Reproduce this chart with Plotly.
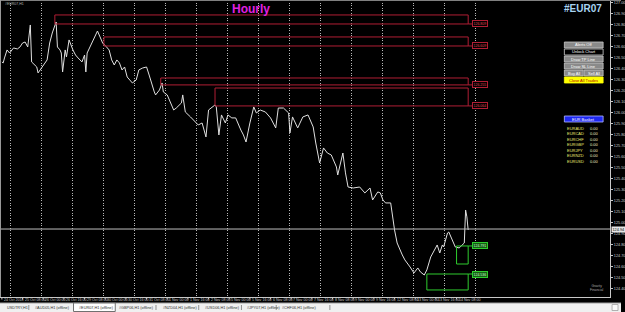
import plotly.graph_objects as go

# ---------------- data ----------------
# hourly bar index (0 = 25 Oct 00:00, weekends removed) and #EUR07 close
bars = [-7, -6, -5, -3, -1, 2, 5, 7, 9, 11, 13, 15, 16, 18, 20, 21, 24, 26, 28, 30,
        32, 35, 36, 38, 39, 40, 42, 43, 45, 48, 50, 52, 55, 57, 58, 59, 62, 65, 67, 69,
        71, 74, 76, 78, 80, 82, 84, 86, 88, 90, 94, 97, 99, 102, 105, 107, 109, 111, 112, 115,
        117, 118, 121, 124, 126, 128, 132, 133, 135, 139, 143, 145, 148, 151, 153, 155, 158, 159, 161, 163,
        166, 168, 171, 174, 176, 178, 180, 182, 185, 188, 190, 193, 197, 201, 205, 207, 211, 215, 216, 218,
        222, 226, 230, 234, 236, 239, 242, 245, 248, 252, 253, 257, 259, 261, 265, 270, 274, 278, 280, 284,
        286, 288, 290, 294, 297, 299, 303, 305, 309, 312, 315, 317, 320, 322, 325, 328, 330, 332, 334, 335,
        338, 339, 342, 344, 347, 349, 351, 352, 353, 354]
prices = [126.464, 126.455, 126.500, 126.573, 126.545, 126.591, 126.582, 126.600, 126.636, 126.645,
          126.600, 126.800, 126.464, 126.436, 126.418, 126.364, 126.418, 126.455, 126.482, 126.636,
          126.727, 126.827, 126.600, 126.573, 126.545, 126.373, 126.573, 126.509, 126.664, 126.573,
          126.527, 126.500, 126.464, 126.527, 126.373, 126.545, 126.618, 126.691, 126.745, 126.691,
          126.636, 126.600, 126.573, 126.482, 126.436, 126.482, 126.455, 126.391, 126.418, 126.327,
          126.273, 126.300, 126.391, 126.409, 126.418, 126.345, 126.255, 126.191, 126.164, 126.209,
          126.273, 126.191, 126.164, 126.091, 126.027, 126.045, 126.091, 126.164, 126.009, 125.964,
          125.918, 125.891, 125.909, 125.782, 126.027, 126.045, 126.073, 126.055, 125.800, 125.982,
          125.909, 125.982, 125.955, 125.955, 125.891, 125.845, 125.800, 125.736, 125.909, 126.055,
          126.000, 126.027, 126.009, 125.955, 125.864, 126.045, 126.045, 126.000, 125.818, 125.964,
          125.864, 125.964, 125.982, 125.873, 125.727, 125.545, 125.682, 125.636, 125.618, 125.509,
          125.436, 125.636, 125.455, 125.327, 125.318, 125.327, 125.273, 125.318, 125.209, 125.282,
          125.273, 125.209, 125.182, 125.182, 124.936, 124.818, 124.709, 124.664, 124.600, 124.545,
          124.591, 124.555, 124.527, 124.573, 124.691, 124.755, 124.800, 124.727, 124.800, 124.782,
          124.909, 124.918, 124.845, 124.782, 124.773, 124.800, 124.818, 125.118, 125.055, 124.936]

current_price = 124.945

day_grid_bars = [0, 24, 48, 72, 96, 120, 144, 168, 192, 216, 240, 264, 288, 312, 336, 360]

time_label_bars = [-7, 9, 25, 41, 57, 73, 89, 105, 121, 137, 153, 169, 185, 201, 217, 233,
                   249, 265, 281, 297, 313, 329, 345]
time_labels = ["24 Oct 2018", "25 Oct 08:00", "26 Oct 00:00", "26 Oct 16:00", "29 Oct 08:00",
               "30 Oct 00:00", "30 Oct 16:00", "31 Oct 08:00", "1 Nov 00:00", "1 Nov 16:00",
               "2 Nov 08:00", "5 Nov 00:00", "5 Nov 16:00", "6 Nov 08:00", "7 Nov 00:00",
               "7 Nov 16:00", "8 Nov 08:00", "9 Nov 00:00", "9 Nov 16:00", "12 Nov 08:00",
               "13 Nov 00:00", "13 Nov 16:00", "14 Nov 08:00"]

price_ticks = [127.0, 126.9, 126.8, 126.7, 126.6, 126.5, 126.4, 126.3, 126.2, 126.1,
               126.0, 125.9, 125.8, 125.7, 125.6, 125.5, 125.4, 125.3, 125.2, 125.1,
               125.0, 124.9, 124.8, 124.7, 124.6, 124.5, 124.4]
price_tick_labels = ["127.00", "126.90", "126.80", "126.70", "126.60", "126.50", "126.40",
                     "126.30", "126.20", "126.10", "126.00", "125.90", "125.80", "125.70",
                     "125.60", "125.50", "125.40", "125.30", "125.20", "125.10", "125.00",
                     "124.90", "124.80", "124.70", "124.60", "124.50", "124.40"]

# supply (red) and demand (green) zones
zone_end_bar = 354
red_start = [34, 72, 116, 158]
red_low = [126.809, 126.609, 126.255, 126.064]
red_high = [126.891, 126.691, 126.318, 126.227]
green_start = [345, 322]
green_low = [124.627, 124.391]
green_high = [124.791, 124.536]

basket_pairs = ["EURAUD", "EURCAD", "EURCHF", "EURGBP", "EURJPY", "EURNZD", "EURUSD"]
basket_values = ["0.00", "0.00", "0.00", "0.00", "0.00", "0.00", "0.00"]

tab_names = ["USDTRY,H1", "#AUD05,H1 (offline)", "#EUR07,H1 (offline)", "#GBP06,H1 (offline)",
             "#NZD04,H1 (offline)", "#USD06,H1 (offline)", "#JPY07,H1 (offline)",
             "#CHF06,H1 (offline)"]

# ---------------- layout helpers ----------------
W, H = 625, 312
PLOT_RIGHT_PX = 614
PLOT_BOTTOM_PX = 297
FONT = "Liberation Sans, Arial, sans-serif"
AXIS_COL = "#C8C8C8"


def fx(p):
    return p / W


def fy(p):
    return 1 - p / H


fig = go.Figure()
fig.add_trace(go.Scatter(x=bars, y=prices, mode="lines",
                         line=dict(color="#E0E0E0", width=1), hoverinfo="skip",
                         showlegend=False))

shapes = []
ann = []

# current price line
shapes.append(dict(type="line", xref="paper", yref="y", x0=0, x1=fx(PLOT_RIGHT_PX),
                   y0=current_price, y1=current_price, line=dict(color="#BEBEBE", width=1)))

# red zones
RED = "#B01E34"
for x0, lo, hi in zip(red_start, red_low, red_high):
    shapes.append(dict(type="rect", xref="x", yref="y", x0=x0, x1=zone_end_bar, y0=lo, y1=hi,
                       line=dict(color=RED, width=1), fillcolor="rgba(0,0,0,0)"))
    shapes.append(dict(type="line", xref="x", yref="y", x0=zone_end_bar, x1=zone_end_bar + 3,
                       y0=lo, y1=lo, line=dict(color=RED, width=1)))
    ann.append(dict(x=zone_end_bar + 3, y=lo, xref="x", yref="y", xanchor="left",
                    yanchor="middle", text=f"{lo:.3f}", showarrow=False,
                    font=dict(size=3.5, color="#E04050", family=FONT),
                    bordercolor=RED, borderwidth=1, borderpad=0.5, bgcolor="#000000"))

# green zones
GREEN = "#2ECC2E"
for x0, lo, hi in zip(green_start, green_low, green_high):
    shapes.append(dict(type="rect", xref="x", yref="y", x0=x0, x1=zone_end_bar, y0=lo, y1=hi,
                       line=dict(color=GREEN, width=1), fillcolor="rgba(0,0,0,0)"))
    shapes.append(dict(type="line", xref="x", yref="y", x0=zone_end_bar, x1=zone_end_bar + 3,
                       y0=hi, y1=hi, line=dict(color=GREEN, width=1)))
    ann.append(dict(x=zone_end_bar + 3, y=hi, xref="x", yref="y", xanchor="left",
                    yanchor="middle", text=f"{hi:.3f}", showarrow=False,
                    font=dict(size=3.5, color="#D0FFD0", family=FONT),
                    bordercolor=GREEN, borderwidth=1, borderpad=0.5, bgcolor="#136013"))

# time labels + small ticks
for b, t in zip(time_label_bars, time_labels):
    ann.append(dict(x=b, y=fy(300.2), xref="x", yref="paper", xanchor="left",
                    yanchor="middle", text=t, showarrow=False,
                    font=dict(size=3.6, color=AXIS_COL, family=FONT)))
    shapes.append(dict(type="line", xref="x", yref="paper", x0=b, x1=b,
                       y0=fy(PLOT_BOTTOM_PX), y1=fy(PLOT_BOTTOM_PX + 2.5),
                       line=dict(color=AXIS_COL, width=1)))

# current price tag
ann.append(dict(x=fx(PLOT_RIGHT_PX + 1), y=current_price, xref="paper", yref="y",
                xanchor="left", yanchor="middle", text=f"{current_price:.2f}", showarrow=False,
                font=dict(size=3.8, color="#000000", family=FONT), bgcolor="#E6E6E6",
                borderpad=0.5))

# titles
ann.append(dict(x=fx(253), y=fy(9), xref="paper", yref="paper", xanchor="center",
                yanchor="middle", text="<b>Hourly</b>", showarrow=False,
                font=dict(size=12, color="#E020E0", family=FONT)))
ann.append(dict(x=fx(587), y=fy(8), xref="paper", yref="paper", xanchor="center",
                yanchor="middle", text="<b>#EUR07</b>", showarrow=False,
                font=dict(size=10, color="#A8D4F0", family=FONT)))
ann.append(dict(x=fx(3), y=fy(4), xref="paper", yref="paper", xanchor="left",
                yanchor="middle", text="#EUR07,H1", showarrow=False,
                font=dict(size=3.5, color="#B0B0B0", family=FONT)))

# buttons
GRAYBTN = "#8A8A8A"
buttons = [
    ("Alerts Off", 568, 607, 42, 48, GRAYBTN, "#C8C8C8", "#FFFFFF"),
    ("Unlock Chart", 568, 607, 49, 55, "#000000", "#D0D0D0", "#FFFFFF"),
    ("Draw TP Line", 568, 607, 56, 62, GRAYBTN, "#C8C8C8", "#FFFFFF"),
    ("Draw SL Line", 568, 607, 63, 69, GRAYBTN, "#C8C8C8", "#FFFFFF"),
    ("Buy All", 568, 587, 70, 76, GRAYBTN, "#C8C8C8", "#FFFFFF"),
    ("Sell All", 588, 607, 70, 76, GRAYBTN, "#C8C8C8", "#FFFFFF"),
    ("Close All Trades", 568, 607, 77, 83, "#FFFF00", "#FFFF00", "#B00000"),
    ("EUR Basket", 568, 607, 116, 122, "#1E28F0", "#B0B8FF", "#FFFFFF"),
]
for txt, x0, x1, y0, y1, fill, border, tcol in buttons:
    shapes.append(dict(type="rect", xref="paper", yref="paper", x0=fx(x0), x1=fx(x1),
                       y0=fy(y1), y1=fy(y0), fillcolor=fill, line=dict(color=border, width=0.8)))
    ann.append(dict(x=fx((x0 + x1) / 2), y=fy((y0 + y1) / 2), xref="paper", yref="paper",
                    xanchor="center", yanchor="middle", text=txt, showarrow=False,
                    font=dict(size=4, color=tcol, family=FONT)))

basket_rows_py = [128, 133.5, 139, 144.5, 150, 155.5, 161]
for name, val, rp in zip(basket_pairs, basket_values, basket_rows_py):
    ann.append(dict(x=fx(569), y=fy(rp), xref="paper", yref="paper", xanchor="left",
                    yanchor="middle", text=name, showarrow=False,
                    font=dict(size=4, color="#E8E870", family=FONT)))
    ann.append(dict(x=fx(592), y=fy(rp), xref="paper", yref="paper", xanchor="left",
                    yanchor="middle", text=val, showarrow=False,
                    font=dict(size=4, color="#F2F2C0", family=FONT)))

# logo text bottom right
ann.append(dict(x=fx(600), y=fy(288), xref="paper", yref="paper", xanchor="center",
                yanchor="middle", text="Gravity<br>Financial", showarrow=False,
                font=dict(size=3.3, color="#A8A8A8", family=FONT)))

# frame lines
shapes.append(dict(type="line", xref="paper", yref="paper", x0=0, x1=1, y0=fy(0.5), y1=fy(0.5),
                   line=dict(color="#808080", width=1)))
shapes.append(dict(type="line", xref="paper", yref="paper", x0=fx(0.5), x1=fx(0.5),
                   y0=fy(PLOT_BOTTOM_PX), y1=1, line=dict(color="#9A9A9A", width=1)))

# tab bar
shapes.append(dict(type="rect", xref="paper", yref="paper", x0=0, x1=1, y0=0, y1=fy(303),
                   fillcolor="#F0F0F0", line=dict(width=0), layer="above"))
shapes.append(dict(type="line", xref="paper", yref="paper", x0=0, x1=1, y0=fy(303), y1=fy(303),
                   line=dict(color="#A0A0A0", width=1)))
shapes.append(dict(type="rect", xref="paper", yref="paper", x0=fx(74), x1=fx(116), y0=fy(311.5),
                   y1=fy(303), fillcolor="#FFFFFF", line=dict(color="#707070", width=1)))
tab_x = [5, 33, 77, 118, 162, 204, 247, 282]
for name, tx in zip(tab_names, tab_x):
    ann.append(dict(x=fx(tx), y=fy(307.5), xref="paper", yref="paper", xanchor="left",
                    yanchor="middle", text=name, showarrow=False,
                    font=dict(size=3.8, color="#303030", family=FONT)))
for dx in [29, 157, 200, 243, 278, 332]:
    shapes.append(dict(type="line", xref="paper", yref="paper", x0=fx(dx), x1=fx(dx),
                       y0=fy(310), y1=fy(305), line=dict(color="#909090", width=1)))
shapes.append(dict(type="rect", xref="paper", yref="paper", x0=fx(616), x1=fx(622), y0=fy(310.5),
                   y1=fy(304.5), fillcolor="#F8F8F8", line=dict(color="#A0A0A0", width=0.8)))

fig.update_layout(
    width=W, height=H,
    margin=dict(l=0, r=0, t=0, b=0),
    paper_bgcolor="#000000", plot_bgcolor="#000000",
    shapes=shapes, annotations=ann, showlegend=False,
    xaxis=dict(domain=[0, fx(PLOT_RIGHT_PX)], range=[(0 - 11) / 1.3, (PLOT_RIGHT_PX - 11) / 1.3],
               tickmode="array", tickvals=day_grid_bars, showticklabels=False, ticks="",
               showgrid=True, gridcolor="#B8B8B8", griddash="1px,1.5px", gridwidth=1,
               zeroline=False, showline=True, linecolor=AXIS_COL, linewidth=1,
               fixedrange=True),
    yaxis=dict(domain=[fy(PLOT_BOTTOM_PX), 1], range=[124.327, 127.027], side="right",
               tickmode="array", tickvals=price_ticks, ticktext=price_tick_labels,
               ticks="outside", ticklen=2, tickcolor=AXIS_COL, tickwidth=1,
               tickfont=dict(size=3.8, color=AXIS_COL, family=FONT),
               showgrid=False, zeroline=False, showline=True, linecolor=AXIS_COL,
               linewidth=1, fixedrange=True),
)

fig.write_html("out.html")
